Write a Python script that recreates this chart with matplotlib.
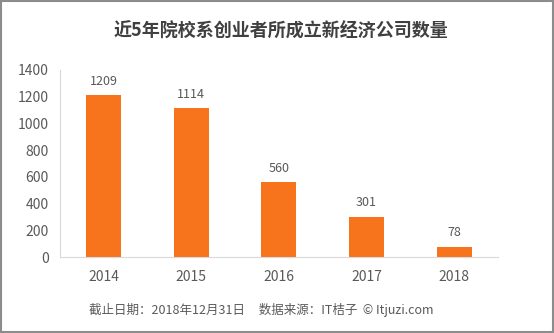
import matplotlib.pyplot as plt
from matplotlib.patches import Rectangle

plt.rcParams['font.family'] = ['Noto Sans CJK SC', 'DejaVu Sans']

years = ['2014', '2015', '2016', '2017', '2018']
counts = [1209, 1114, 560, 301, 78]
yticks = [0, 200, 400, 600, 800, 1000, 1200, 1400]

title = '近5年院校系创业者所成立新经济公司数量'
footer = '截止日期：2018年12月31日     数据来源：IT桔子  © Itjuzi.com'

bar_color = '#F7731C'
text_color = '#595959'

fig = plt.figure(figsize=(5.54, 3.33), dpi=100)
ax = fig.add_axes([0.108, 0.228, 0.791, 0.562])

x = range(len(years))
bars = ax.bar(x, counts, width=0.4, color=bar_color)
for b, v in zip(bars, counts):
    ax.text(b.get_x() + b.get_width() / 2, v + 55, str(v),
            ha='center', va='bottom', fontsize=9, color=text_color)

ax.set_xlim(-0.5, len(years) - 0.5)
ax.set_ylim(0, 1400)
ax.set_xticks(list(x))
ax.set_xticklabels(years)
ax.set_yticks(yticks)
ax.tick_params(axis='both', length=0, labelsize=10, colors=text_color)
ax.tick_params(axis='x', pad=9)
ax.tick_params(axis='y', pad=8)

for side in ['top', 'right']:
    ax.spines[side].set_visible(False)
ax.spines['left'].set_color('#D9D9D9')
ax.spines['bottom'].set_color('#D9D9D9')

fig.text(0.507, 0.905, title, ha='center', va='center',
         fontsize=13, fontweight='bold', color='#404040')
fig.text(0.471, 0.07, footer, ha='center', va='center',
         fontsize=9, color=text_color)

# grey frame round the picture
fig.patches.append(Rectangle((0.002, 0.003), 0.996, 0.994, transform=fig.transFigure,
                             fill=False, edgecolor='#8C8C8C', linewidth=1.5))

plt.savefig('out.png', dpi=100)
